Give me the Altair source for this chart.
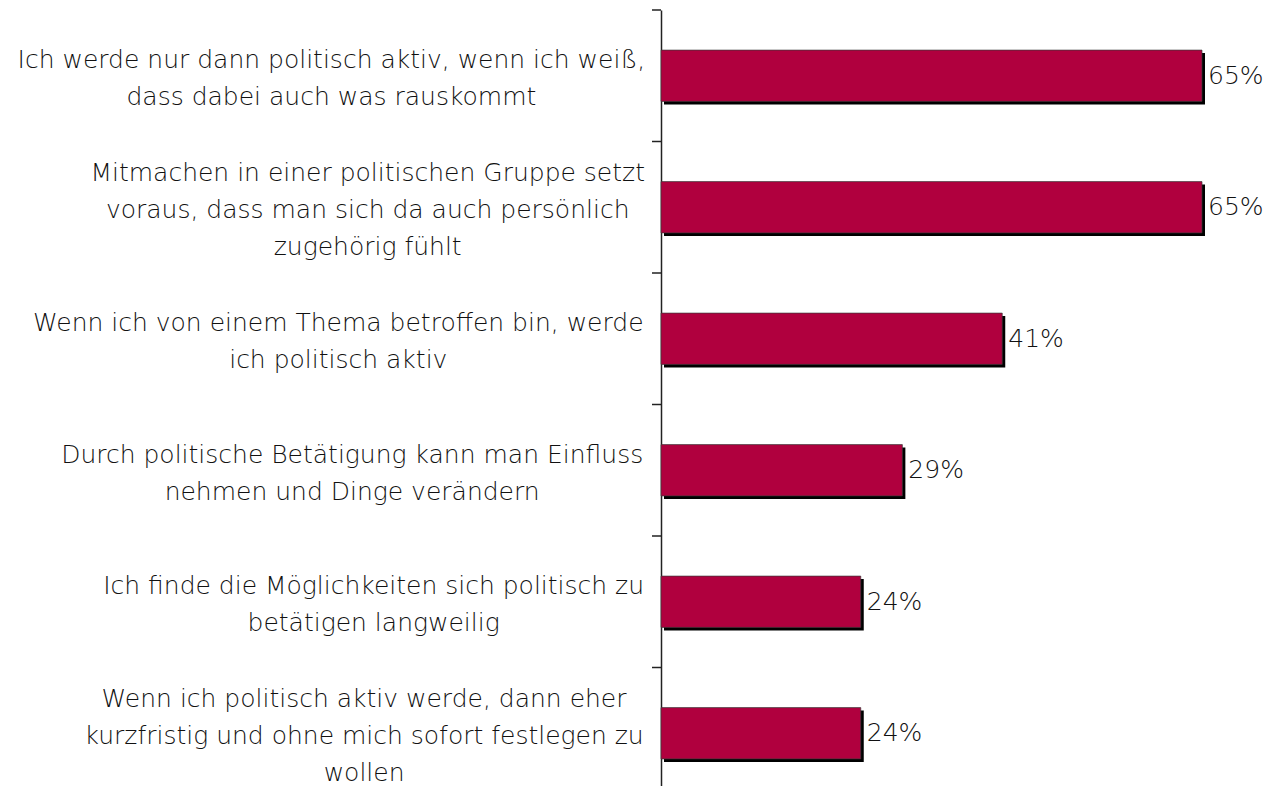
import altair as alt
import pandas as pd

labels = [
    ["Ich werde nur dann politisch aktiv, wenn ich weiß,", "dass dabei auch was rauskommt"],
    ["Mitmachen in einer politischen Gruppe setzt", "voraus, dass man sich da auch persönlich", "zugehörig fühlt"],
    ["Wenn ich von einem Thema betroffen bin, werde", "ich politisch aktiv"],
    ["Durch politische Betätigung kann man Einfluss", "nehmen und Dinge verändern"],
    ["Ich finde die Möglichkeiten sich politisch zu", "betätigen langweilig"],
    ["Wenn ich politisch aktiv werde, dann eher", "kurzfristig und ohne mich sofort festlegen zu", "wollen"],
]
values = [65, 65, 41, 29, 24, 24]

cats = ["|".join(l) for l in labels]
df = pd.DataFrame({"cat": cats, "value": values})

# one row per text line of each category label
rows = []
for c, l in zip(cats, labels):
    for i, s in enumerate(l):
        rows.append({"cat": c, "line": s, "idx": i, "n": len(l)})
tdf = pd.DataFrame(rows)

FONT = "DejaVu Sans"
WEIGHT = 200
FS = 25
LH = 37
BAR = "#B0003E"

Y_RANGE = 789
PAD = 0.61
STEP = Y_RANGE / len(cats)
BW = STEP * (1 - PAD)

# approximate glyph advance widths (em) of the font, used to right-align the centred label blocks
EM = {' ': 0.318, ',': 0.318, '.': 0.318, 'a': 0.613, 'b': 0.635, 'c': 0.550, 'd': 0.635,
      'e': 0.615, 'f': 0.352, 'g': 0.635, 'h': 0.634, 'i': 0.278, 'j': 0.278, 'k': 0.579,
      'l': 0.278, 'm': 0.974, 'n': 0.634, 'o': 0.612, 'p': 0.635, 'q': 0.635, 'r': 0.411,
      's': 0.521, 't': 0.392, 'u': 0.634, 'v': 0.592, 'w': 0.818, 'x': 0.592, 'y': 0.592,
      'z': 0.525, 'ä': 0.613, 'ö': 0.612, 'ü': 0.634, 'ß': 0.635, 'I': 0.295, 'M': 0.863,
      'G': 0.775, 'T': 0.611, 'W': 0.989, 'D': 0.770, 'E': 0.632, 'B': 0.686}
groups = {}
for ch in sorted(set("".join(tdf["line"]))):
    groups.setdefault(EM.get(ch, 0.6), []).append(ch)
width_expr = f"{FS}*(" + " + ".join(
    f"{w}*length(replace(datum.line, regexp('[^{''.join(chs)}]','g'), ''))"
    for w, chs in groups.items()) + ")"

yscale = alt.Scale(domain=cats, range=[0, Y_RANGE], paddingInner=PAD, paddingOuter=PAD / 2)
xscale = alt.Scale(domain=[0, 65], range=[0, 541])

base = alt.Chart(df)

y_enc = alt.Y("cat:N", sort=cats, scale=yscale,
              axis=alt.Axis(labels=False, ticks=False, title=None, domainColor="#222",
                            domainWidth=1.5, grid=False))

shadow = base.mark_bar(color="black", xOffset=3, x2Offset=3, yOffset=3, y2Offset=3).encode(
    x=alt.X("value:Q", scale=xscale, axis=None),
    y=y_enc,
)
bars = base.mark_bar(color=BAR, stroke="#3a3a3a", strokeWidth=0.7).encode(
    x=alt.X("value:Q", scale=xscale, axis=None),
    y=y_enc,
)
pct = base.mark_text(align="left", baseline="middle", dx=6, font=FONT, fontSize=FS,
                     fontWeight=WEIGHT, color="#111").encode(
    x=alt.X("value:Q", scale=xscale, axis=None),
    y=y_enc,
    text=alt.Text("pl:N"),
).transform_calculate(pl="datum.value + '%'")

# category separator ticks, half a step above each band centre
ticks = base.mark_rule(color="#222", strokeWidth=1.5, yOffset=-STEP / 2).encode(
    x=alt.value(-9), x2=alt.value(0),
    y=alt.Y("cat:N", sort=cats, scale=yscale),
)

txt = alt.Chart(tdf).mark_text(align="center", baseline="middle", font=FONT, fontSize=FS,
                               fontWeight=WEIGHT, color="#111").encode(
    x=alt.X("cx:Q", scale=None),
    y=y_enc,
    yOffset=alt.YOffset("off:Q", scale=None),
    text=alt.Text("line:N"),
).transform_calculate(
    w=width_expr,
    off=f"(datum.idx - (datum.n - 1)/2) * {LH} + {BW / 2 + 3}",
).transform_joinaggregate(
    maxw="max(w)", groupby=["cat"]
).transform_calculate(
    cx="-16 - datum.maxw/2",
)

chart = alt.layer(shadow, bars, pct, ticks, txt).properties(
    width=602, height=776,
    autosize=alt.AutoSizeParams(type="none"),
    padding={"left": 653, "top": 2, "right": 0, "bottom": 0},
).configure_view(stroke=None)

chart.save("out.html", embed_options={"renderer": "svg", "actions": False})
